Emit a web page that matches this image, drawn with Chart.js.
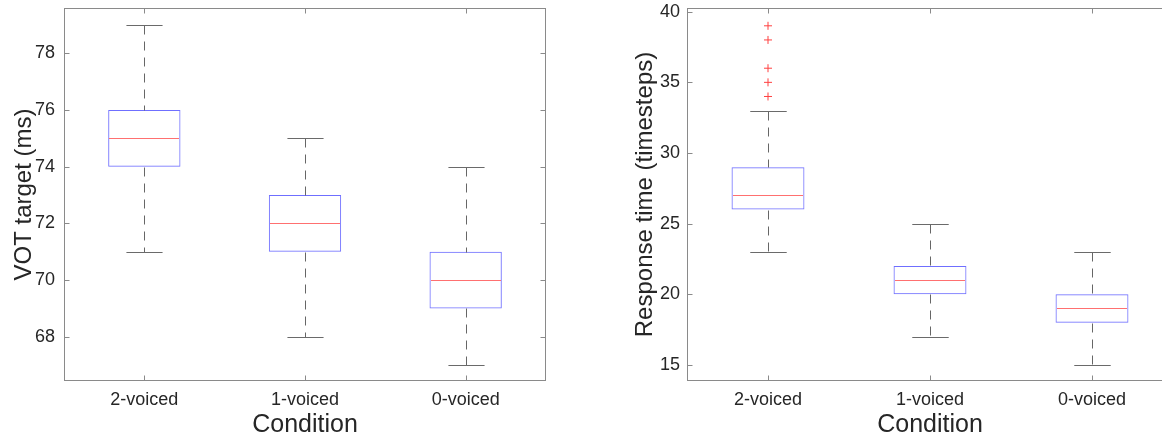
<!DOCTYPE html>
<html lang="en">
<head>
<meta charset="UTF-8">
<title>VOT target and response time by condition</title>
<style>
    body {
        margin: 0;
        width: 1162px;
        height: 436px;
        overflow: hidden;
        background: #fff;
        position: relative;
    }
    .panel { position: absolute; top: 0; }
    #left { left: 0; }
    #right { left: 580px; }
</style>
</head>
<body>
<div class="panel" id="left"><canvas id="votChart" width="580" height="436"></canvas></div>
<div class="panel" id="right"><canvas id="rtChart" width="600" height="436"></canvas></div>

<script src="https://cdn.jsdelivr.net/npm/chart.js"></script>
<script>
    const conditions = ['2-voiced', '1-voiced', '0-voiced'];

    // VOT target (ms)
    const votLow = [71, 68, 67];
    const votQ1 = [74, 71, 69];
    const votMedian = [75, 72, 70];
    const votQ3 = [76, 73, 71];
    const votHigh = [79, 75, 74];
    const votOutliers = [];
    const votTicks = [68, 70, 72, 74, 76, 78];

    // Response time (timesteps)
    const rtLow = [23, 17, 15];
    const rtQ1 = [26, 20, 18];
    const rtMedian = [27, 21, 19];
    const rtQ3 = [29, 22, 20];
    const rtHigh = [33, 25, 23];
    const rtOutliers = [
        { x: '2-voiced', y: 34 },
        { x: '2-voiced', y: 35 },
        { x: '2-voiced', y: 36 },
        { x: '2-voiced', y: 38 },
        { x: '2-voiced', y: 39 }
    ];
    const rtTicks = [15, 20, 25, 30, 35, 40];

    const textColor = '#262626';
    const fontFamily = '"Liberation Sans", Arial, Helvetica, sans-serif';

    // whiskers, caps, medians, axes box and inward ticks (MATLAB look)
    const boxExtras = {
        id: 'boxExtras',
        afterDatasetsDraw(chart, args, opts) {
            const { ctx, chartArea: a, scales: { x, y } } = chart;
            const bars = chart.getDatasetMeta(0).data;
            const py = v => Math.round(y.getPixelForValue(v)) + 0.5;
            ctx.save();
            ctx.lineWidth = 1;
            bars.forEach((bar, i) => {
                const cx = Math.round(bar.x) + 0.5;
                const half = bar.width / 2;

                ctx.strokeStyle = '#666';
                ctx.setLineDash([9, 7]);
                ctx.beginPath();
                ctx.moveTo(cx, py(opts.high[i]));
                ctx.lineTo(cx, py(opts.q3[i]));
                ctx.moveTo(cx, py(opts.q1[i]));
                ctx.lineTo(cx, py(opts.low[i]));
                ctx.stroke();
                ctx.setLineDash([]);

                ctx.strokeStyle = '#6a6a6a';
                ctx.beginPath();
                ctx.moveTo(cx - half / 2, py(opts.high[i]));
                ctx.lineTo(cx + half / 2, py(opts.high[i]));
                ctx.moveTo(cx - half / 2, py(opts.low[i]));
                ctx.lineTo(cx + half / 2, py(opts.low[i]));
                ctx.stroke();

                ctx.strokeStyle = '#ff7070';
                ctx.beginPath();
                ctx.moveTo(Math.round(bar.x - half) + 1, py(opts.median[i]));
                ctx.lineTo(Math.round(bar.x + half) - 1, py(opts.median[i]));
                ctx.stroke();
            });

            const l = a.left + 0.5, r = a.right - 0.5, t = a.top + 0.5, b = a.bottom - 0.5;
            ctx.strokeStyle = '#8a8a8a';
            ctx.strokeRect(l, t, r - l, b - t);
            ctx.beginPath();
            y.ticks.forEach(tk => {
                const ty = py(tk.value);
                ctx.moveTo(l, ty); ctx.lineTo(l + 5, ty);
                ctx.moveTo(r, ty); ctx.lineTo(r - 5, ty);
            });
            conditions.forEach((c, i) => {
                const tx = Math.round(x.getPixelForValue(i)) + 0.5;
                ctx.moveTo(tx, b); ctx.lineTo(tx, b - 5);
                ctx.moveTo(tx, t); ctx.lineTo(tx, t + 5);
            });
            ctx.stroke();
            ctx.restore();
        }
    };

    function makeBoxChart(id, p) {
        const ctx = document.getElementById(id).getContext('2d');
        return new Chart(ctx, {
            type: 'bar',
            data: {
                labels: conditions,
                datasets: [{
                    data: p.q1.map((v, i) => [v, p.q3[i]]),
                    backgroundColor: 'rgba(0,0,0,0)',
                    borderColor: '#6f6fff',
                    borderWidth: 1,
                    borderSkipped: false,
                    barPercentage: 0.45,
                    categoryPercentage: 1
                }, {
                    type: 'line',
                    data: p.outliers,
                    showLine: false,
                    pointStyle: 'cross',
                    pointRadius: 4,
                    pointBorderWidth: 1,
                    pointBorderColor: '#ff4040',
                    borderColor: '#ff4040'
                }]
            },
            options: {
                responsive: false,
                animation: false,
                layout: { padding: { top: 8, right: p.padRight, left: 0, bottom: 0 } },
                plugins: {
                    legend: { display: false },
                    tooltip: { enabled: false },
                    boxExtras: { low: p.low, q1: p.q1, median: p.median, q3: p.q3, high: p.high }
                },
                scales: {
                    x: {
                        grid: { display: false, drawTicks: false, tickLength: 0 },
                        border: { display: false },
                        ticks: { color: textColor, font: { family: fontFamily, size: 18 }, padding: 8, maxRotation: 0 },
                        title: {
                            display: true, text: 'Condition', color: textColor,
                            font: { family: fontFamily, size: 25, lineHeight: 0.85 }, padding: 0
                        },
                        afterFit: s => { s.height = 55; s.paddingLeft = 0; s.paddingRight = 0; }
                    },
                    y: {
                        min: p.min,
                        max: p.max,
                        grid: { display: false, drawTicks: false, tickLength: 0 },
                        border: { display: false },
                        afterBuildTicks: s => { s.ticks = p.ticks.map(v => ({ value: v })); },
                        ticks: { color: textColor, font: { family: fontFamily, size: 18 }, padding: p.tickPad },
                        title: {
                            display: true, text: p.title, color: textColor,
                            font: { family: fontFamily, size: 24, lineHeight: 1.2 },
                            padding: { top: p.titlePad, bottom: 0 }
                        },
                        afterFit: s => { s.width = p.axisWidth; s.paddingTop = 0; s.paddingBottom = 0; }
                    }
                }
            },
            plugins: [boxExtras]
        });
    }

    makeBoxChart('votChart', {
        low: votLow, q1: votQ1, median: votMedian, q3: votQ3, high: votHigh,
        outliers: votOutliers, ticks: votTicks,
        min: 66.44, max: 79.6,
        title: 'VOT target (ms)',
        axisWidth: 64, padRight: 34, tickPad: 9, titlePad: 10
    });

    makeBoxChart('rtChart', {
        low: rtLow, q1: rtQ1, median: rtMedian, q3: rtQ3, high: rtHigh,
        outliers: rtOutliers, ticks: rtTicks,
        min: 13.87, max: 40.26,
        title: 'Response time (timesteps)',
        axisWidth: 107, padRight: 7, tickPad: 7, titlePad: 51
    });
</script>
</body>
</html>
